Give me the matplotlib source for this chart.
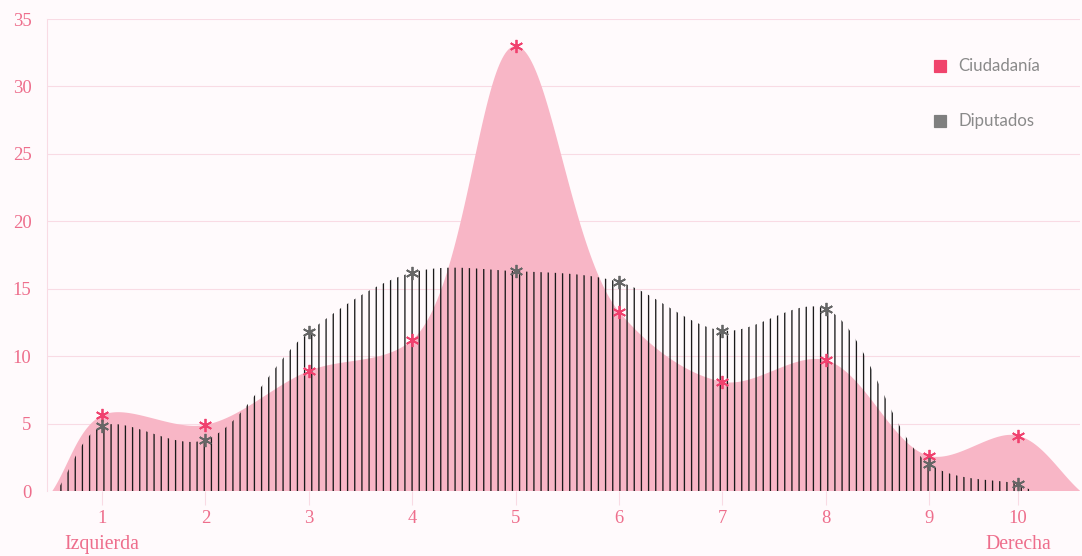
import numpy as np
import matplotlib
matplotlib.use("Agg")
import matplotlib.pyplot as plt

# datos (posicion 1 = izquierda, 10 = derecha)
categorias = [1, 2, 3, 4, 5, 6, 7, 8, 9, 10]
ciudadania = [5.6, 4.9, 8.9, 11.2, 33.0, 13.3, 8.1, 9.7, 2.6, 4.1]
diputados = [4.8, 3.8, 11.8, 16.2, 16.3, 15.5, 11.9, 13.5, 2.0, 0.5]
y_ticks = [0, 5, 10, 15, 20, 25, 30, 35]
series = ["Ciudadanía", "Diputados"]
extremos = ["Izquierda", "Derecha"]

ROSA = "#f8b6c6"
ROSA_FUERTE = "#f0416e"
ROSA_TEXTO = "#ee6e8c"
GRIS = "#666666"
FONDO = "#fffafc"

# pixeles por unidad en x e y (la curva se suaviza en espacio de pantalla)
SX, SY = 103.4, 13.49


def catmull_rom(xk, yk, alpha=0.5, n=60):
    # Catmull-Rom no uniforme, como d3.curveCatmullRom.alpha(...)
    P = np.column_stack([np.asarray(xk, float) * SX, np.asarray(yk, float) * SY])
    P = np.vstack([2 * P[0] - P[1], P, 2 * P[-1] - P[-2]])
    trozos = []
    for i in range(1, len(P) - 2):
        p0, p1, p2, p3 = P[i - 1], P[i], P[i + 1], P[i + 2]
        t0 = 0.0
        t1 = t0 + np.linalg.norm(p1 - p0) ** alpha
        t2 = t1 + np.linalg.norm(p2 - p1) ** alpha
        t3 = t2 + np.linalg.norm(p3 - p2) ** alpha
        t = np.linspace(t1, t2, n)[:, None]
        a1 = (t1 - t) / (t1 - t0) * p0 + (t - t0) / (t1 - t0) * p1
        a2 = (t2 - t) / (t2 - t1) * p1 + (t - t1) / (t2 - t1) * p2
        a3 = (t3 - t) / (t3 - t2) * p2 + (t - t2) / (t3 - t2) * p3
        b1 = (t2 - t) / (t2 - t0) * a1 + (t - t0) / (t2 - t0) * a2
        b2 = (t3 - t) / (t3 - t1) * a2 + (t - t1) / (t3 - t1) * a3
        c = (t2 - t) / (t2 - t1) * b1 + (t - t1) / (t2 - t1) * b2
        trozos.append(c)
    C = np.vstack(trozos)
    return C[:, 0] / SX, np.maximum(C[:, 1] / SY, 0)


dpi = 86.4
plt.rcParams["hatch.linewidth"] = 1.1
plt.rcParams["hatch.color"] = "#1a1a1a"
fig = plt.figure(figsize=(1082 / dpi, 556 / dpi), dpi=dpi, facecolor=FONDO)
ax = fig.add_axes([47 / 1082, 1 - 491 / 556, 1033 / 1082, 472 / 556])
ax.set_facecolor(FONDO)

# en el original la categoria 10 queda algo mas cerca de la 9
xpos = np.array(categorias, float)
xpos[-1] = 9.86

# Ciudadania: area rosa suavizada
cx, cy = catmull_rom(np.r_[0.52, xpos, 10.46], np.r_[0, ciudadania, 0], alpha=0.6)
ax.fill(np.r_[cx, cx[-1], cx[0]], np.r_[cy, 0, 0], color=ROSA, linewidth=0, zorder=2)

# Diputados: area rayada con lineas verticales
dx, dy = catmull_rom(np.r_[0.56, xpos, 10.0], np.r_[0, diputados, 0], alpha=0.5)
ax.fill(np.r_[dx, dx[-1], dx[0]], np.r_[dy, 0, 0], facecolor="none",
        edgecolor="#1a1a1a", hatch="||", linewidth=0, zorder=3)

ax.plot(xpos, ciudadania, ls="none", marker=(6, 2, 0), ms=11, mew=1.5,
        color=ROSA_FUERTE, zorder=5)
ax.plot(xpos, diputados, ls="none", marker=(6, 2, 0), ms=11, mew=1.5,
        color=GRIS, zorder=5)

ax.set_xlim(0.468, 10.458)
ax.set_ylim(0, 35)
ax.set_yticks(y_ticks)
ax.set_xticks(xpos)
ax.set_xticklabels([str(c) for c in categorias])
ax.yaxis.grid(True, color="#f9dbe4", linewidth=0.9)
ax.set_axisbelow(True)

for lado in ["top", "right", "bottom"]:
    ax.spines[lado].set_visible(False)
ax.spines["left"].set_color("#f9dbe4")
ax.spines["left"].set_linewidth(0.9)

ax.tick_params(axis="y", length=0, pad=13, labelsize=15.5, labelcolor=ROSA_TEXTO)
ax.tick_params(axis="x", length=11.5, width=0.9, color="#f9dbe4", pad=4,
               labelsize=15.5, labelcolor=ROSA_TEXTO)
for lab in ax.get_xticklabels() + ax.get_yticklabels():
    lab.set_fontfamily("Liberation Serif")

trans = ax.get_xaxis_transform()
ax.text(xpos[0], -0.114, extremos[0], transform=trans, ha="center", va="center",
        fontsize=16.5, color=ROSA_TEXTO, family="Liberation Serif")
ax.text(xpos[-1], -0.114, extremos[1], transform=trans, ha="center", va="center",
        fontsize=16.5, color=ROSA_TEXTO, family="Liberation Serif")

# leyenda
for nombre, col, yy in zip(series, ["#f0446c", "#7f7f7f"], [0.9004, 0.7839]):
    ax.plot([0.8645], [yy], marker="s", ms=10, color=col, ls="none",
            transform=ax.transAxes, clip_on=False, zorder=6)
    ax.text(0.8819, yy, nombre, transform=ax.transAxes, va="center", ha="left",
            fontsize=14, color="#8a8a8a", family="Lato", zorder=6)

fig.savefig("out.png", dpi=dpi, facecolor=FONDO)
